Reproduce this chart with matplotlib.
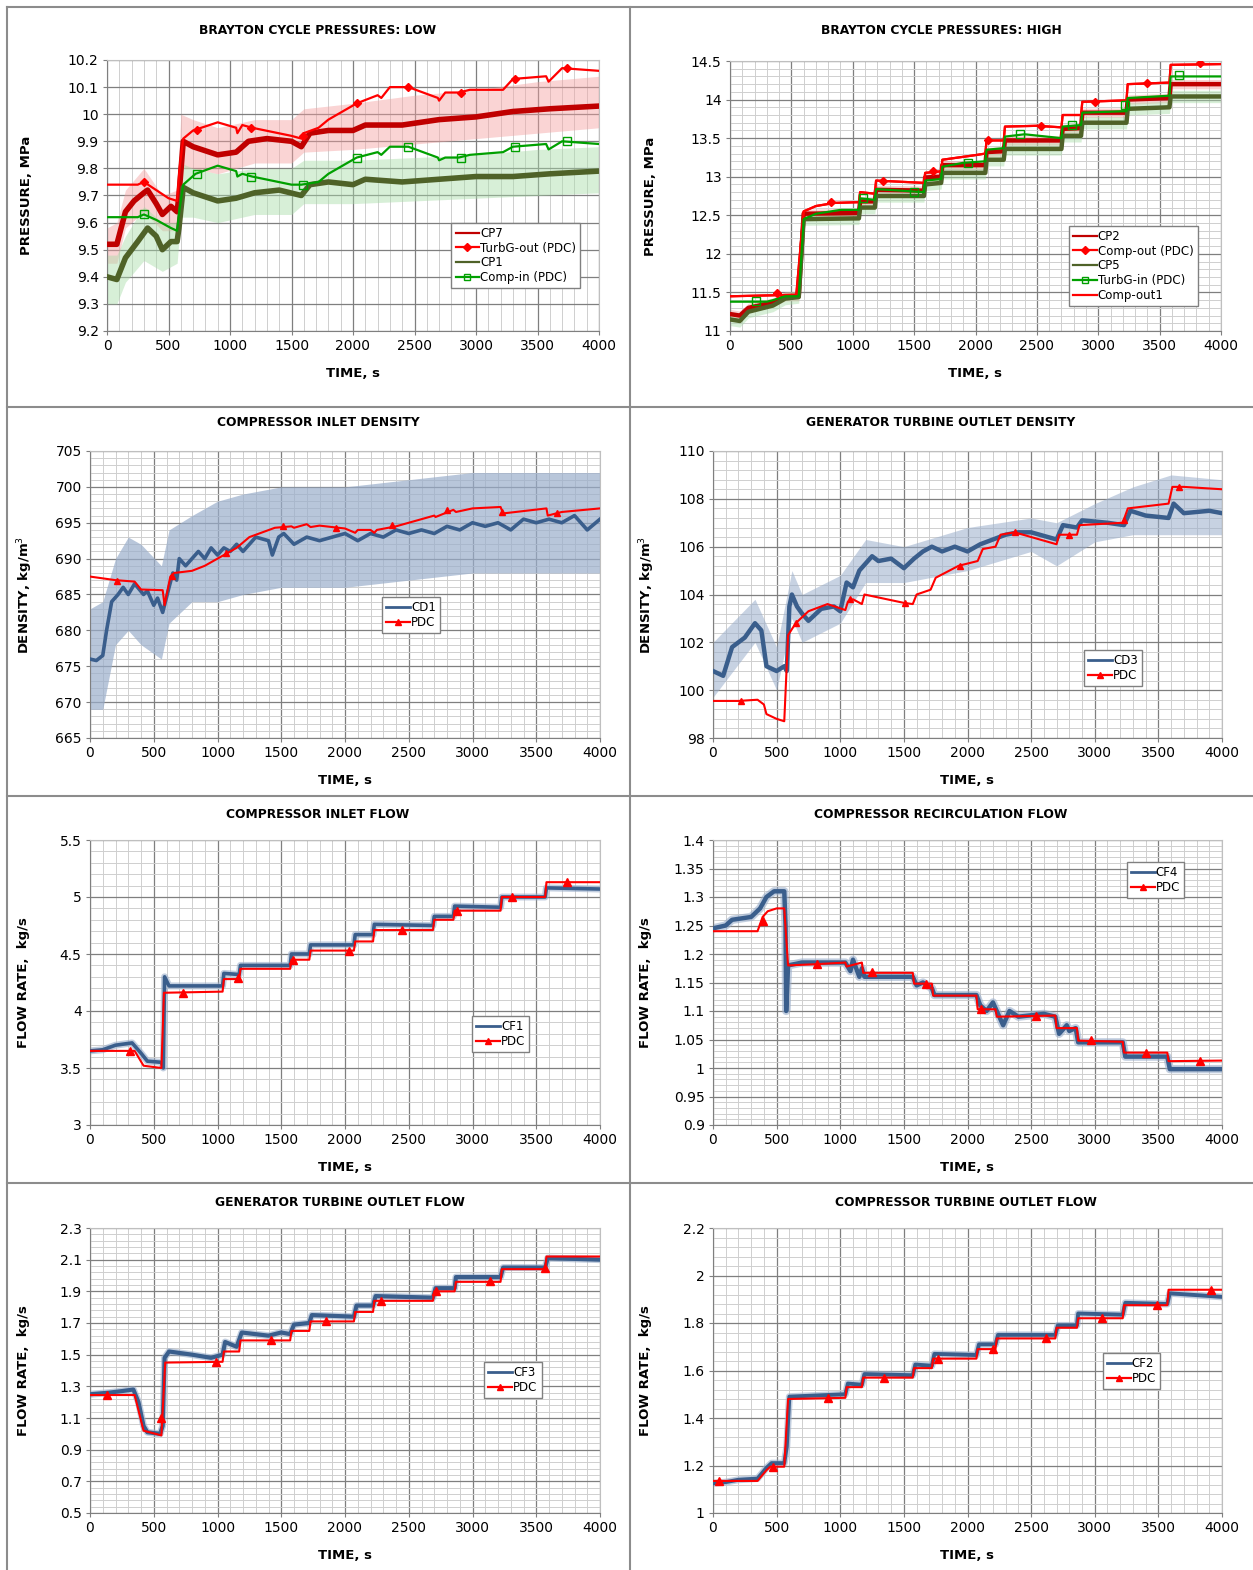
import numpy as np
import matplotlib
matplotlib.use('Agg')
import matplotlib.pyplot as plt
from matplotlib.lines import Line2D
from matplotlib.ticker import MultipleLocator

plt.rcParams['font.family'] = 'DejaVu Sans'

# ---------------- data ----------------
# panel 1: Brayton cycle pressures, low side (MPa)
cp7_t = [0, 80, 150, 220, 300, 330, 400, 450, 520, 570, 585, 620, 700, 900, 1050, 1150, 1300, 1500, 1580,
         1650, 1800, 2000, 2100, 2400, 2700, 3000, 3300, 3600, 4000]
cp7_v = [9.52, 9.52, 9.64, 9.68, 9.71, 9.72, 9.67, 9.63, 9.66, 9.64, 9.70, 9.90, 9.88, 9.85, 9.86, 9.90, 9.91, 9.90, 9.88,
         9.93, 9.94, 9.94, 9.96, 9.96, 9.98, 9.99, 10.01, 10.02, 10.03]
cp7_band_t = [0, 80, 150, 300, 450, 570, 600, 700, 900, 1200, 1500, 1600, 2000, 2500, 3000, 3500, 4000]
cp7_lo = [9.45, 9.45, 9.58, 9.64, 9.57, 9.57, 9.80, 9.80, 9.78, 9.82, 9.82, 9.86, 9.87, 9.89, 9.91, 9.93, 9.95]
cp7_hi = [9.58, 9.60, 9.72, 9.80, 9.70, 9.72, 10.00, 9.98, 9.95, 9.98, 9.98, 10.02, 10.04, 10.07, 10.09, 10.12, 10.14]

turbg_out_t = [0, 250, 300, 400, 500, 570, 590, 620, 700, 900, 1050, 1060, 1100, 1180, 1500, 1580, 1600, 1720, 1800,
               2030, 2200, 2230, 2300, 2450, 2690, 2700, 2750, 2860, 2950, 3220, 3300, 3570, 3590, 3700, 4000]
turbg_out_v = [9.74, 9.74, 9.75, 9.72, 9.69, 9.68, 9.80, 9.91, 9.94, 9.97, 9.95, 9.93, 9.96, 9.95, 9.92, 9.91, 9.93, 9.95, 9.98,
               10.04, 10.07, 10.06, 10.10, 10.10, 10.06, 10.05, 10.08, 10.08, 10.09, 10.09, 10.13, 10.14, 10.12, 10.17, 10.16]
turbg_out_mt = [300, 730, 1170, 1590, 2030, 2450, 2880, 3320, 3740]
turbg_out_mv = [9.75, 9.94, 9.95, 9.92, 10.04, 10.10, 10.08, 10.13, 10.17]

cp1_t = [0, 80, 150, 250, 330, 400, 450, 520, 570, 585, 620, 700, 900, 1050, 1200, 1400, 1580,
         1650, 1800, 2000, 2100, 2400, 2700, 3000, 3300, 3600, 4000]
cp1_v = [9.40, 9.39, 9.47, 9.53, 9.58, 9.55, 9.50, 9.53, 9.53, 9.58, 9.73, 9.71, 9.68, 9.69, 9.71, 9.72, 9.70,
         9.74, 9.75, 9.74, 9.76, 9.75, 9.76, 9.77, 9.77, 9.78, 9.79]
cp1_lo = [9.30, 9.30, 9.38, 9.46, 9.42, 9.45, 9.62, 9.62, 9.60, 9.63, 9.63, 9.67, 9.67, 9.68, 9.69, 9.70, 9.71]
cp1_hi = [9.48, 9.48, 9.55, 9.66, 9.60, 9.60, 9.82, 9.80, 9.78, 9.80, 9.80, 9.83, 9.83, 9.84, 9.85, 9.87, 9.88]

comp_in_t = [0, 250, 300, 400, 520, 570, 590, 620, 720, 900, 1050, 1060, 1100, 1180, 1500, 1580, 1720, 1800,
             2030, 2200, 2230, 2300, 2450, 2690, 2700, 2750, 2860, 2950, 3220, 3300, 3570, 3590, 3700, 4000]
comp_in_v = [9.62, 9.62, 9.63, 9.61, 9.58, 9.57, 9.65, 9.74, 9.78, 9.81, 9.79, 9.77, 9.78, 9.77, 9.74, 9.74, 9.75, 9.78,
             9.84, 9.86, 9.85, 9.88, 9.88, 9.84, 9.83, 9.84, 9.84, 9.85, 9.86, 9.88, 9.89, 9.87, 9.90, 9.89]
comp_in_mt = [300, 730, 1170, 1590, 2030, 2450, 2880, 3320, 3740]
comp_in_mv = [9.63, 9.78, 9.77, 9.74, 9.84, 9.88, 9.84, 9.88, 9.90]

# panel 2: Brayton cycle pressures, high side (MPa)
cp2_t = [0, 80, 150, 350, 450, 560, 600, 1050, 1060, 1180, 1190, 1580, 1590, 1720, 1730, 2080, 2090,
         2230, 2240, 2700, 2710, 2860, 2870, 3230, 3240, 3580, 3590, 4000]
cp2_v = [11.22, 11.20, 11.30, 11.37, 11.45, 11.45, 12.52, 12.53, 12.68, 12.68, 12.83, 12.82, 12.99, 13.00, 13.15, 13.15, 13.32,
         13.33, 13.47, 13.47, 13.62, 13.63, 13.83, 13.83, 14.00, 14.02, 14.20, 14.20]
cp2_spread = 0.06
cp5_v = [11.15, 11.13, 11.25, 11.33, 11.42, 11.44, 12.45, 12.46, 12.60, 12.60, 12.75, 12.75, 12.90, 12.92, 13.05, 13.05, 13.22,
         13.22, 13.36, 13.36, 13.53, 13.53, 13.70, 13.70, 13.88, 13.90, 14.04, 14.04]
cp5_spread = 0.08

comp_out_t = [0, 540, 600, 700, 850, 1050, 1060, 1180, 1190, 1580, 1590, 1720, 1730, 2000, 2080, 2090,
              2230, 2240, 2500, 2700, 2710, 2860, 2870, 3230, 3240, 3580, 3590, 4000]
comp_out_v = [11.45, 11.47, 12.55, 12.62, 12.66, 12.67, 12.80, 12.78, 12.95, 12.92, 13.05, 13.07, 13.22, 13.28, 13.30, 13.47,
              13.47, 13.65, 13.66, 13.64, 13.80, 13.80, 13.97, 13.99, 14.20, 14.22, 14.45, 14.46]
comp_out_mt = [380, 820, 1250, 1650, 2100, 2530, 2970, 3400, 3830]
comp_out_mv = [11.49, 12.67, 12.94, 13.08, 13.47, 13.66, 13.97, 14.22, 14.47]
comp_out1_v = comp_out_v

turbg_in_t = [0, 300, 350, 450, 560, 600, 700, 900, 1050, 1060, 1180, 1190, 1580, 1590, 1720, 1730, 1900, 2080, 2090,
              2230, 2240, 2400, 2700, 2710, 2860, 2870, 3230, 3240, 3580, 3590, 4000]
turbg_in_v = [11.38, 11.38, 11.40, 11.45, 11.45, 12.45, 12.52, 12.57, 12.57, 12.72, 12.70, 12.84, 12.80, 12.95, 12.97, 13.13,
              13.18, 13.20, 13.35, 13.37, 13.52, 13.55, 13.50, 13.65, 13.67, 13.83, 13.85, 14.02, 14.05, 14.30, 14.30]
turbg_in_mt = [210, 1080, 1500, 1940, 2360, 2790, 3220, 3660]
turbg_in_mv = [11.39, 12.72, 12.80, 13.18, 13.55, 13.67, 13.93, 14.32]

# panel 3: compressor inlet density (kg/m3)
cd1_t = [0, 50, 100, 130, 170, 220, 260, 300, 350, 420, 450, 500, 530, 570, 620, 650, 680, 700, 750, 850, 900, 950,
         1000, 1050, 1100, 1150, 1200, 1300, 1400, 1430, 1480, 1520, 1600, 1700, 1800, 1900, 2000, 2100, 2200, 2300,
         2400, 2500, 2600, 2700, 2800, 2900, 3000, 3100, 3200, 3300, 3400, 3500, 3600, 3700, 3800, 3900, 4000]
cd1_v = [676, 675.8, 676.5, 680, 684, 685, 686, 685, 686.5, 685, 685.5, 683.5, 684.5, 682.5, 686, 688, 687, 690, 689, 691,
         690, 691.5, 690.5, 691.5, 691, 692, 691, 693, 692.5, 690.5, 693, 693.5, 692, 693, 692.5, 693, 693.5, 692.5,
         693.5, 693, 694, 693.5, 694, 693.5, 694.5, 694, 695, 694.5, 695, 694, 695.5, 695, 695.5, 695, 696, 694, 695.5]
cd1_band_t = [0, 100, 200, 300, 400, 560, 620, 800, 1000, 1200, 1500, 2000, 2500, 3000, 3500, 4000]
cd1_lo = [669, 669, 678, 680, 678, 676, 681, 684, 684, 685, 686, 686, 687, 688, 688, 688]
cd1_hi = [683, 684, 690, 693, 692, 689, 694, 696, 698, 699, 700, 700, 701, 702, 702, 702]

pdc3_t = [0, 200, 350, 400, 570, 585, 630, 660, 800, 900, 1050, 1150, 1250, 1450, 1580, 1600, 1700, 1730, 1800,
          2000, 2080, 2100, 2200, 2230, 2250, 2400, 2700, 2710, 2850, 2870, 3000, 3220, 3240, 3580, 3590, 3700, 4000]
pdc3_v = [687.5, 687, 686.8, 685.7, 685.6, 683.5, 687.5, 688, 688.3, 689, 690.5, 691.5, 693, 694.3, 694.5, 694.3, 694.8,
          694.4, 694.6, 694.2, 693.6, 694, 694, 693.6, 694, 694.5, 696, 695.8, 696.8, 696.5, 697, 697.2, 696.3, 697, 696,
          696.5, 697]
pdc3_mt = [210, 640, 1070, 1510, 1930, 2370, 2800, 3230, 3660]
pdc3_mv = [686.9, 687.6, 690.8, 694.6, 694.2, 694.7, 696.8, 696.5, 696.4]

# panel 4: generator turbine outlet density (kg/m3)
cd3_t = [0, 80, 150, 250, 330, 380, 420, 500, 560, 580, 600, 620, 660, 700, 750, 850, 950, 1000, 1050, 1100, 1150,
         1200, 1250, 1300, 1400, 1450, 1500, 1580, 1650, 1720, 1800, 1900, 2000, 2100, 2200, 2300, 2400, 2500, 2700,
         2750, 2860, 2900, 3100, 3230, 3280, 3400, 3580, 3620, 3700, 3900, 4000]
cd3_v = [100.8, 100.6, 101.8, 102.2, 102.8, 102.5, 101.0, 100.8, 101.0, 100.8, 103.5, 104.0, 103.5, 103.2, 102.9, 103.4,
         103.5, 103.3, 104.5, 104.3, 105.0, 105.3, 105.6, 105.4, 105.5, 105.3, 105.1, 105.5, 105.8, 106.0, 105.8, 106.0,
         105.8, 106.1, 106.3, 106.5, 106.6, 106.6, 106.3, 106.9, 106.8, 107.1, 107.0, 106.9, 107.5, 107.3, 107.2, 107.8,
         107.4, 107.5, 107.4]
cd3_band_t = [0, 330, 500, 620, 700, 1000, 1200, 1500, 2000, 2500, 2700, 3000, 3300, 3600, 4000]
cd3_lo = [99.7, 102.0, 100.0, 103.0, 102.0, 102.8, 104.5, 104.5, 105.0, 105.8, 105.2, 106.2, 106.5, 106.5, 106.5]
cd3_hi = [102.0, 103.8, 101.8, 105.0, 104.0, 104.8, 106.3, 106.0, 106.8, 107.2, 107.0, 107.8, 108.5, 109.0, 108.8]

pdc4_t = [0, 200, 350, 400, 420, 500, 560, 590, 650, 750, 900, 1040, 1060, 1100, 1170, 1190, 1500, 1570, 1600, 1710,
          1750, 1930, 2080, 2120, 2220, 2260, 2370, 2700, 2720, 2860, 2880, 3220, 3260, 3580, 3610, 3700, 4000]
pdc4_v = [99.55, 99.55, 99.6, 99.4, 99.0, 98.8, 98.7, 102.3, 102.8, 103.3, 103.6, 103.35, 103.7, 103.8, 103.6, 104.0,
          103.65, 103.6, 104.0, 104.2, 104.7, 105.2, 105.4, 105.9, 106.0, 106.5, 106.6, 106.1, 106.5, 106.5, 106.9,
          107.0, 107.6, 107.8, 108.5, 108.5, 108.4]
pdc4_mt = [220, 650, 1080, 1510, 1940, 2370, 2800, 3230, 3660]
pdc4_mv = [99.55, 102.8, 103.8, 103.65, 105.2, 106.6, 106.5, 107.1, 108.5]

# panel 5: compressor inlet flow (kg/s)
cf1_t = [0, 100, 200, 330, 400, 450, 560, 575, 585, 620, 1040, 1050, 1170, 1180, 1570, 1580, 1720, 1730, 2070, 2080,
         2220, 2230, 2690, 2700, 2850, 2860, 3220, 3230, 3570, 3580, 4000]
cf1_v = [3.65, 3.66, 3.70, 3.72, 3.63, 3.56, 3.55, 3.50, 4.30, 4.22, 4.22, 4.33, 4.32, 4.40, 4.40, 4.50, 4.50, 4.58, 4.58,
         4.67, 4.67, 4.76, 4.75, 4.83, 4.83, 4.92, 4.91, 5.00, 5.00, 5.08, 5.07]
pdc5_t = [0, 350, 420, 560, 580, 1040, 1050, 1170, 1180, 1570, 1580, 1720, 1730, 2070, 2080, 2220, 2230, 2690, 2700,
          2850, 2860, 3220, 3230, 3570, 3580, 4000]
pdc5_v = [3.65, 3.65, 3.52, 3.50, 4.16, 4.17, 4.28, 4.28, 4.37, 4.37, 4.45, 4.45, 4.53, 4.53, 4.61, 4.61, 4.71, 4.71,
          4.80, 4.80, 4.88, 4.88, 5.00, 5.00, 5.13, 5.13]
pdc5_mt = [310, 730, 1160, 1590, 2030, 2450, 2880, 3310, 3740]
pdc5_mv = [3.65, 4.16, 4.29, 4.45, 4.53, 4.71, 4.88, 5.00, 5.13]

# panel 6: compressor recirculation flow (kg/s)
cf4_t = [0, 100, 150, 300, 370, 420, 480, 560, 570, 575, 590, 700, 1040, 1080, 1100, 1150, 1170, 1190, 1570, 1600, 1650,
         1720, 1740, 2070, 2100, 2150, 2200, 2250, 2280, 2330, 2400, 2600, 2690, 2720, 2780, 2800, 2850, 2870, 3220,
         3240, 3570, 3590, 4000]
cf4_v = [1.245, 1.25, 1.26, 1.265, 1.28, 1.30, 1.31, 1.31, 1.25, 1.10, 1.18, 1.185, 1.185, 1.17, 1.19, 1.16, 1.175, 1.16,
         1.16, 1.145, 1.15, 1.14, 1.128, 1.128, 1.11, 1.10, 1.115, 1.09, 1.075, 1.10, 1.09, 1.095, 1.09, 1.06, 1.075,
         1.065, 1.07, 1.045, 1.045, 1.02, 1.02, 0.998, 0.998]
pdc6_t = [0, 350, 390, 430, 500, 560, 590, 800, 1040, 1050, 1170, 1180, 1570, 1580, 1720, 1730, 2070, 2080, 2220,
          2230, 2690, 2700, 2860, 2870, 3220, 3230, 3570, 3580, 4000]
pdc6_v = [1.24, 1.24, 1.265, 1.275, 1.28, 1.28, 1.18, 1.182, 1.185, 1.178, 1.185, 1.167, 1.167, 1.148, 1.148, 1.127,
          1.127, 1.103, 1.103, 1.09, 1.092, 1.07, 1.07, 1.048, 1.046, 1.027, 1.027, 1.012, 1.013]
pdc6_mt = [390, 820, 1250, 1670, 2110, 2540, 2970, 3400, 3830]
pdc6_mv = [1.258, 1.183, 1.168, 1.148, 1.103, 1.092, 1.049, 1.027, 1.012]

# panel 7: generator turbine outlet flow (kg/s)
cf3_t = [0, 150, 250, 340, 380, 420, 450, 550, 570, 585, 620, 800, 950, 1040, 1060, 1150, 1190, 1400, 1500, 1570,
         1600, 1720, 1740, 2070, 2090, 2220, 2240, 2690, 2710, 2860, 2870, 3220, 3240, 3570, 3590, 4000]
cf3_v = [1.25, 1.26, 1.27, 1.28, 1.20, 1.05, 1.01, 1.00, 1.05, 1.48, 1.52, 1.50, 1.48, 1.50, 1.58, 1.55, 1.64, 1.62,
         1.64, 1.63, 1.69, 1.70, 1.75, 1.74, 1.81, 1.81, 1.87, 1.86, 1.92, 1.92, 1.99, 1.99, 2.05, 2.05, 2.11, 2.10]
pdc7_t = [0, 350, 420, 560, 590, 1040, 1050, 1170, 1180, 1570, 1580, 1720, 1730, 2070, 2080, 2220, 2230, 2690, 2700,
          2860, 2870, 3220, 3230, 3570, 3580, 4000]
pdc7_v = [1.245, 1.245, 1.02, 0.99, 1.45, 1.455, 1.52, 1.52, 1.59, 1.59, 1.65, 1.65, 1.71, 1.71, 1.77, 1.77, 1.84, 1.84,
          1.90, 1.90, 1.96, 1.96, 2.04, 2.04, 2.12, 2.12]
pdc7_mt = [130, 560, 990, 1420, 1850, 2280, 2710, 3140, 3570]
pdc7_mv = [1.245, 1.10, 1.455, 1.59, 1.71, 1.84, 1.90, 1.965, 2.045]
gto_flow_ticks = [0.5, 0.7, 0.9, 1.1, 1.3, 1.5, 1.7, 1.9, 2.1, 2.3]

# panel 8: compressor turbine outlet flow (kg/s)
cf2_t = [0, 100, 200, 350, 420, 460, 560, 580, 600, 1040, 1060, 1170, 1190, 1570, 1590, 1720, 1740, 2070, 2090, 2220,
         2240, 2690, 2710, 2860, 2870, 3220, 3240, 3570, 3590, 4000]
cf2_v = [1.125, 1.13, 1.14, 1.145, 1.19, 1.21, 1.21, 1.28, 1.49, 1.50, 1.545, 1.54, 1.585, 1.58, 1.625, 1.62, 1.67, 1.665,
         1.71, 1.71, 1.75, 1.75, 1.79, 1.79, 1.84, 1.835, 1.885, 1.88, 1.925, 1.91]
pdc8_t = [0, 350, 420, 450, 560, 590, 1040, 1050, 1170, 1180, 1570, 1580, 1720, 1730, 2070, 2080, 2220, 2230, 2690,
          2700, 2860, 2870, 3220, 3230, 3570, 3580, 4000]
pdc8_v = [1.135, 1.135, 1.18, 1.195, 1.195, 1.48, 1.485, 1.53, 1.53, 1.57, 1.57, 1.61, 1.61, 1.65, 1.65, 1.69, 1.69,
          1.735, 1.735, 1.78, 1.78, 1.82, 1.82, 1.875, 1.875, 1.94, 1.94]
pdc8_mt = [50, 470, 900, 1340, 1770, 2200, 2620, 3060, 3490, 3910]
pdc8_mv = [1.135, 1.195, 1.485, 1.57, 1.65, 1.69, 1.735, 1.82, 1.875, 1.94]

# ---------------- styling ----------------
DARK_RED = '#C00000'
RED = '#FF0000'
OLIVE = '#4F6228'
GREEN = '#00A000'
BLUE = '#3A5E8C'
BLUE_BAND = '#9AAECB'

W, H = 1253, 1570
fig = plt.figure(figsize=(W / 100, H / 100), dpi=100)


def add_ax(left, top, right, bottom):
    return fig.add_axes([left / W, 1 - bottom / H, (right - left) / W, (bottom - top) / H])


def style(ax, ylim, ymaj, ymin, title, ylabel, box, title_y, panel_cx, fmt=None):
    ax.set_xlim(0, 4000)
    ax.set_ylim(*ylim)
    ax.xaxis.set_major_locator(MultipleLocator(500))
    ax.xaxis.set_minor_locator(MultipleLocator(100))
    if ymaj:
        ax.yaxis.set_major_locator(MultipleLocator(ymaj))
    if ymin:
        ax.yaxis.set_minor_locator(MultipleLocator(ymin))
    ax.grid(which='major', color='#7f7f7f', lw=0.9, zorder=0)
    ax.grid(which='minor', color='#cfcfcf', lw=0.7, zorder=0)
    ax.set_axisbelow(True)
    ax.tick_params(which='major', labelsize=10, length=3, color='#7f7f7f', pad=3)
    ax.tick_params(which='minor', length=0)
    for s in ['top', 'right']:
        ax.spines[s].set_color('#bfbfbf')
    for s in ['left', 'bottom']:
        ax.spines[s].set_color('#7f7f7f')
    if fmt:
        ax.yaxis.set_major_formatter(fmt)
    ax.set_xlabel('TIME, s', fontsize=9.5, fontweight='bold', labelpad=10)
    ax.set_ylabel(ylabel, fontsize=9.5, fontweight='bold')
    fig.text(panel_cx / W, 1 - title_y / H, title, ha='center', va='center', fontsize=8.8, fontweight='bold')


def gfmt(v, pos):
    return '{:g}'.format(round(v, 3))


fmt = matplotlib.ticker.FuncFormatter(gfmt)


def leg(ax, handles, labels, anchor):
    lg = ax.legend(handles, labels, loc='upper left', bbox_to_anchor=anchor, fontsize=8.5, frameon=True,
                   fancybox=False, edgecolor='#808080', framealpha=1, borderpad=0.35, labelspacing=0.15,
                   handlelength=2.0, handletextpad=0.1, borderaxespad=0)
    lg.get_frame().set_linewidth(1.0)
    return lg


def pdc_handle(color, marker, mfc=None, ms=5):
    return Line2D([], [], color=color, lw=1.6, marker=marker, ms=ms, mfc=mfc if mfc else color, mec=color)


# panel boxes
for seg in [((7, 7), (7, 1570)), ((7, 7), (1253, 7)), ((630, 7), (630, 1570)),
            ((7, 407), (1253, 407)), ((7, 796), (1253, 796)), ((7, 1183), (1253, 1183))]:
    (x0, y0), (x1, y1) = seg
    fig.add_artist(Line2D([x0 / W, x1 / W], [1 - y0 / H, 1 - y1 / H], color='#8c8c8c', lw=1.5,
                          transform=fig.transFigure))

# ---- panel 1 ----
box = (107, 60, 599, 331)
ax = add_ax(*box)
ax.fill_between(cp7_band_t, cp7_lo, cp7_hi, color='#F4A0A0', alpha=0.45, lw=0, zorder=1)
ax.fill_between(cp7_band_t, cp1_lo, cp1_hi, color='#A8DCA8', alpha=0.45, lw=0, zorder=1)
ax.plot(cp7_t, cp7_v, color=DARK_RED, lw=4.0, zorder=3)
ax.plot(cp1_t, cp1_v, color=OLIVE, lw=4.0, zorder=3)
ax.plot(turbg_out_t, turbg_out_v, color=RED, lw=1.6, zorder=4)
ax.plot(turbg_out_mt, turbg_out_mv, ls='none', marker='D', ms=4.5, color=RED, zorder=5)
ax.plot(comp_in_t, comp_in_v, color=GREEN, lw=1.6, zorder=4)
ax.plot(comp_in_mt, comp_in_mv, ls='none', marker='s', ms=6, mfc='none', mec=GREEN, mew=1.0, zorder=5)
style(ax, (9.2, 10.2), 0.1, None, 'BRAYTON CYCLE PRESSURES: LOW', 'PRESSURE, MPa', box, 30, 318, fmt)
ax.yaxis.set_label_coords(-(107 - 33) / 492, 0.5)
leg(ax, [Line2D([], [], color=DARK_RED, lw=1.6), pdc_handle(RED, 'D', ms=4),
         Line2D([], [], color=OLIVE, lw=1.6), pdc_handle(GREEN, 's', mfc='none', ms=5)],
    ['CP7', 'TurbG-out (PDC)', 'CP1', 'Comp-in (PDC)'], (0.70, 0.40))

# ---- panel 2 ----
box = (730, 61, 1221, 331)
ax = add_ax(*box)
cp2 = np.array(cp2_v)
cp5 = np.array(cp5_v)
ax.fill_between(cp2_t, cp2 - cp2_spread, cp2 + cp2_spread, color='#F4A0A0', alpha=0.45, lw=0, zorder=1)
ax.fill_between(cp2_t, cp5 - cp5_spread, cp5 + cp5_spread, color='#A8DCA8', alpha=0.45, lw=0, zorder=1)
ax.plot(cp2_t, cp2_v, color=DARK_RED, lw=3.2, zorder=3)
ax.plot(cp2_t, cp5_v, color=OLIVE, lw=3.2, zorder=3)
ax.plot(comp_out_t, comp_out1_v, color=RED, lw=1.6, zorder=4)
ax.plot(comp_out_t, comp_out_v, color=RED, lw=1.6, zorder=4)
ax.plot(comp_out_mt, comp_out_mv, ls='none', marker='D', ms=4.5, color=RED, zorder=5)
ax.plot(turbg_in_t, turbg_in_v, color=GREEN, lw=1.6, zorder=4)
ax.plot(turbg_in_mt, turbg_in_mv, ls='none', marker='s', ms=6, mfc='none', mec=GREEN, mew=1.0, zorder=5)
style(ax, (11, 14.5), 0.5, 0.1, 'BRAYTON CYCLE PRESSURES: HIGH', 'PRESSURE, MPa', box, 31, 941, fmt)
ax.yaxis.set_label_coords(-(730 - 657) / 491, 0.5)
leg(ax, [Line2D([], [], color=DARK_RED, lw=1.6), pdc_handle(RED, 'D', ms=4),
         Line2D([], [], color=OLIVE, lw=1.6), pdc_handle(GREEN, 's', mfc='none', ms=5),
         Line2D([], [], color=RED, lw=1.6)],
    ['CP2', 'Comp-out (PDC)', 'CP5', 'TurbG-in (PDC)', 'Comp-out1'], (0.69, 0.39))

# ---- panel 3 ----
box = (90, 451, 600, 738)
ax = add_ax(*box)
ax.fill_between(cd1_band_t, cd1_lo, cd1_hi, color=BLUE_BAND, alpha=0.7, lw=0, zorder=1)
ax.plot(cd1_t, cd1_v, color=BLUE, lw=2.6, zorder=3)
ax.plot(pdc3_t, pdc3_v, color=RED, lw=1.5, zorder=4)
ax.plot(pdc3_mt, pdc3_mv, ls='none', marker='^', ms=5, color=RED, zorder=5)
style(ax, (665, 705), 5, 1, 'COMPRESSOR INLET DENSITY', 'DENSITY, kg/m$^3$', box, 423, 318, fmt)
ax.yaxis.set_label_coords(-(90 - 35) / 510, 0.5)
leg(ax, [Line2D([], [], color=BLUE, lw=2), pdc_handle(RED, '^')], ['CD1', 'PDC'], (0.573, 0.491))

# ---- panel 4 ----
box = (713, 451, 1222, 738)
ax = add_ax(*box)
ax.fill_between(cd3_band_t, cd3_lo, cd3_hi, color=BLUE_BAND, alpha=0.55, lw=0, zorder=1)
ax.plot(cd3_t, cd3_v, color=BLUE, lw=3.2, zorder=3)
ax.plot(pdc4_t, pdc4_v, color=RED, lw=1.5, zorder=4)
ax.plot(pdc4_mt, pdc4_mv, ls='none', marker='^', ms=5, color=RED, zorder=5)
style(ax, (98, 110), 2, 0.4, 'GENERATOR TURBINE OUTLET DENSITY', 'DENSITY, kg/m$^3$', box, 423, 941, fmt)
ax.yaxis.set_label_coords(-(713 - 657) / 509, 0.5)
leg(ax, [Line2D([], [], color=BLUE, lw=2), pdc_handle(RED, '^')], ['CD3', 'PDC'], (0.729, 0.307))

# ---- panel 5 ----
box = (90, 840, 600, 1125)
ax = add_ax(*box)
ax.plot(cf1_t, cf1_v, color=BLUE_BAND, lw=5, alpha=0.6, zorder=2)
ax.plot(cf1_t, cf1_v, color=BLUE, lw=2.6, zorder=3)
ax.plot(pdc5_t, pdc5_v, color=RED, lw=1.5, zorder=4)
ax.plot(pdc5_mt, pdc5_mv, ls='none', marker='^', ms=6, color=RED, zorder=5)
style(ax, (3, 5.5), 0.5, 0.1, 'COMPRESSOR INLET FLOW', 'FLOW RATE,  kg/s', box, 814, 318, fmt)
ax.yaxis.set_label_coords(-(90 - 30) / 510, 0.5)
leg(ax, [Line2D([], [], color=BLUE, lw=2), pdc_handle(RED, '^')], ['CF1', 'PDC'], (0.749, 0.382))

# ---- panel 6 ----
box = (713, 840, 1222, 1125)
ax = add_ax(*box)
ax.plot(cf4_t, cf4_v, color=BLUE_BAND, lw=6, alpha=0.6, zorder=2)
ax.plot(cf4_t, cf4_v, color=BLUE, lw=3.2, zorder=3)
ax.plot(pdc6_t, pdc6_v, color=RED, lw=1.5, zorder=4)
ax.plot(pdc6_mt, pdc6_mv, ls='none', marker='^', ms=6, color=RED, zorder=5)
style(ax, (0.9, 1.4), 0.05, 0.01, 'COMPRESSOR RECIRCULATION FLOW', 'FLOW RATE,  kg/s', box, 814, 941, fmt)
ax.yaxis.set_label_coords(-(713 - 652) / 509, 0.5)
leg(ax, [Line2D([], [], color=BLUE, lw=2), pdc_handle(RED, '^')], ['CF4', 'PDC'], (0.813, 0.923))

# ---- panel 7 ----
box = (90, 1228, 600, 1513)
ax = add_ax(*box)
ax.plot(cf3_t, cf3_v, color=BLUE_BAND, lw=5, alpha=0.6, zorder=2)
ax.plot(cf3_t, cf3_v, color=BLUE, lw=3.0, zorder=3)
ax.plot(pdc7_t, pdc7_v, color=RED, lw=1.5, zorder=4)
ax.plot(pdc7_mt, pdc7_mv, ls='none', marker='^', ms=6, color=RED, zorder=5)
style(ax, (0.5, 2.3), None, None, 'GENERATOR TURBINE OUTLET FLOW', 'FLOW RATE,  kg/s', box, 1202, 340, fmt)
ax.set_yticks(gto_flow_ticks)
ax.set_yticks(np.arange(0.5, 2.3, 0.04), minor=True)
ax.yaxis.set_label_coords(-(90 - 30) / 510, 0.5)
leg(ax, [Line2D([], [], color=BLUE, lw=2), pdc_handle(RED, '^')], ['CF3', 'PDC'], (0.773, 0.53))

# ---- panel 8 ----
box = (713, 1228, 1222, 1513)
ax = add_ax(*box)
ax.plot(cf2_t, cf2_v, color=BLUE_BAND, lw=5, alpha=0.6, zorder=2)
ax.plot(cf2_t, cf2_v, color=BLUE, lw=2.8, zorder=3)
ax.plot(pdc8_t, pdc8_v, color=RED, lw=1.5, zorder=4)
ax.plot(pdc8_mt, pdc8_mv, ls='none', marker='^', ms=6, color=RED, zorder=5)
style(ax, (1, 2.2), 0.2, 0.04, 'COMPRESSOR TURBINE OUTLET FLOW', 'FLOW RATE,  kg/s', box, 1202, 966, fmt)
ax.yaxis.set_label_coords(-(713 - 652) / 509, 0.5)
leg(ax, [Line2D([], [], color=BLUE, lw=2), pdc_handle(RED, '^')], ['CF2', 'PDC'], (0.766, 0.561))

fig.savefig('out.png', dpi=100, facecolor='white')
